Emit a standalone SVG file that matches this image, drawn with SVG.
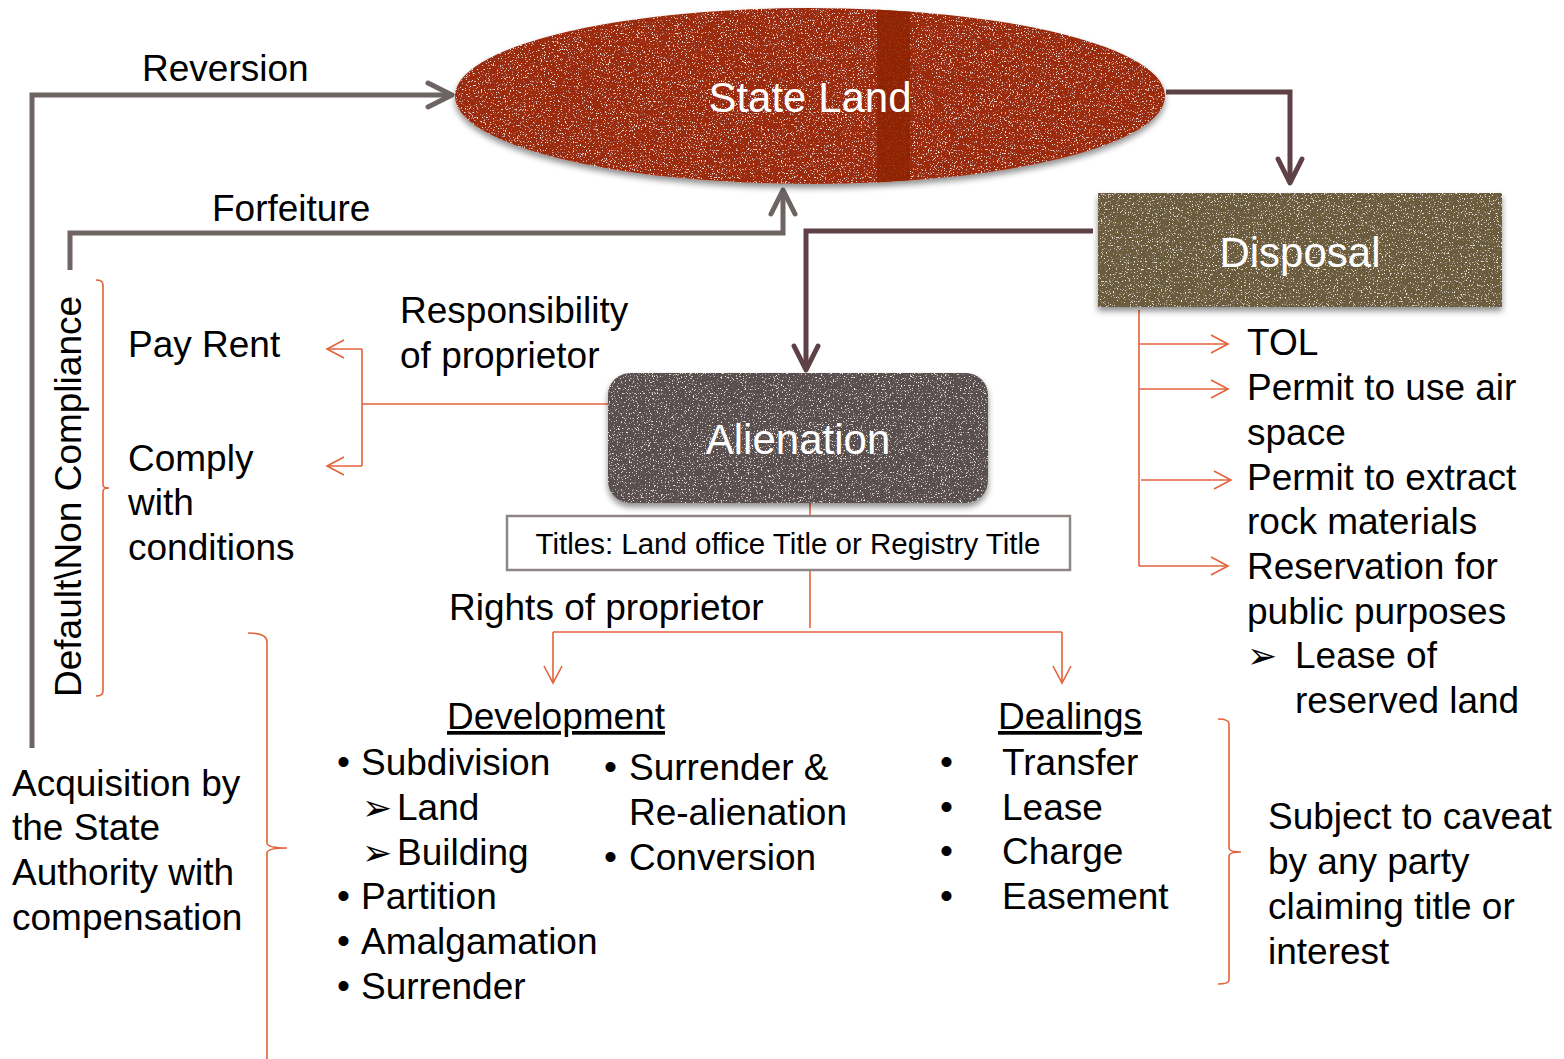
<svg xmlns="http://www.w3.org/2000/svg" width="1564" height="1059" viewBox="0 0 1564 1059">
<style>
  text { font-family: "Liberation Sans", Arial, sans-serif; fill: #000; }
  .t36 { font-size: 37px; }
  .lbl { font-size: 42px; fill: #fff; text-anchor: middle; }
  .ttl { font-size: 29.5px; }
  .arr { font-family: "DejaVu Sans", "Liberation Sans", sans-serif; font-size: 36px; }
  .gray { fill: none; stroke: #6f6464; stroke-width: 5; }
  .dark { fill: none; stroke: #5e4047; stroke-width: 5; }
  .or { fill: none; stroke: #e3623a; stroke-width: 1.6; }
</style>
<defs>
  <marker id="ahGray" markerUnits="userSpaceOnUse" markerWidth="34" markerHeight="34" viewBox="0 0 34 34" refX="29" refY="17" orient="auto">
    <path d="M5,5 L29,17 L5,29" fill="none" stroke="#6f6464" stroke-width="5" stroke-linecap="round" stroke-linejoin="round"/>
  </marker>
  <marker id="ahDark" markerUnits="userSpaceOnUse" markerWidth="34" markerHeight="34" viewBox="0 0 34 34" refX="29" refY="17" orient="auto">
    <path d="M5,5 L29,17 L5,29" fill="none" stroke="#5e4047" stroke-width="5" stroke-linecap="round" stroke-linejoin="round"/>
  </marker>
  <marker id="ahOr" markerUnits="userSpaceOnUse" markerWidth="22" markerHeight="22" viewBox="0 0 22 22" refX="19" refY="11" orient="auto">
    <path d="M2,2 L19,11 L2,20" fill="none" stroke="#e3623a" stroke-width="1.6"/>
  </marker>
  <filter id="grunge" x="-5%" y="-10%" width="110%" height="125%">
    <feTurbulence type="fractalNoise" baseFrequency="0.75" numOctaves="3" seed="7" result="noise"/>
    <feColorMatrix in="noise" type="matrix" values="0 0 0 0 0.96  0 0 0 0 0.9  0 0 0 0 0.86  7 0 0 0 -4.3" result="spots"/>
    <feComposite in="spots" in2="SourceAlpha" operator="in" result="spotsIn"/>
    <feGaussianBlur in="SourceAlpha" stdDeviation="3" result="blur"/>
    <feOffset in="blur" dx="0" dy="4" result="off"/>
    <feComponentTransfer in="off" result="shadow"><feFuncA type="linear" slope="0.45"/></feComponentTransfer>
    <feMerge><feMergeNode in="shadow"/><feMergeNode in="SourceGraphic"/><feMergeNode in="spotsIn"/></feMerge>
  </filter>
  <clipPath id="ellClip"><ellipse cx="810" cy="96" rx="355" ry="88"/></clipPath>
</defs>

<g id="connectors">
  <path class="gray" d="M32,748 L32,95 L452,95" marker-end="url(#ahGray)"/>
  <path class="gray" d="M70,270 L70,233 L783,233 L783,190" marker-end="url(#ahGray)"/>
  <path class="dark" d="M1166,92 L1290,92 L1290,183" marker-end="url(#ahDark)"/>
  <path class="dark" d="M1093,231 L806,231 L806,370" marker-end="url(#ahDark)"/>
  <path class="or" d="M608,404 L362,404"/>
  <path class="or" d="M362,349 L362,466"/>
  <path class="or" d="M362,349 L327,349" marker-end="url(#ahOr)"/>
  <path class="or" d="M362,466 L327,466" marker-end="url(#ahOr)"/>
  <path class="or" d="M810,503 L810,515"/>
  <path class="or" d="M810,571 L810,628"/>
  <path class="or" d="M553,632 L1062,632"/>
  <path class="or" d="M553,632 L553,683" marker-end="url(#ahOr)"/>
  <path class="or" d="M1062,632 L1062,683" marker-end="url(#ahOr)"/>
  <path class="or" d="M1139,310 L1139,566"/>
  <path class="or" d="M1139,344 L1228,344" marker-end="url(#ahOr)"/>
  <path class="or" d="M1139,389 L1228,389" marker-end="url(#ahOr)"/>
  <path class="or" d="M1141,480 L1231,480" marker-end="url(#ahOr)"/>
  <path class="or" d="M1139,566 L1228,566" marker-end="url(#ahOr)"/>
  <path class="or" d="M96,280 Q103,280 103,285 L103,485 Q103,488 109,488 Q103,488 103,491 L103,691 Q103,696 96,696"/>
  <path class="or" d="M248,633 Q267,633 267,642 L267,843 Q267,848 287,848 Q267,848 267,853 L267,1059"/>
  <path class="or" d="M1218,719 Q1229,719 1229,724 L1229,848 Q1229,852 1241,852 Q1229,852 1229,856 L1229,980 Q1229,984 1218,984"/>
</g>

<g id="state-land">
  <g filter="url(#grunge)">
    <ellipse cx="810" cy="96" rx="355" ry="88" fill="#9c2a0e"/>
  </g>
  <rect x="877" y="0" width="33" height="200" fill="#8e2200" opacity="0.85" clip-path="url(#ellClip)"/>
  <text class="lbl" x="810" y="112">State Land</text>
</g>

<g id="disposal">
  <rect x="1098" y="193" width="404" height="114" fill="#6b5b3d" filter="url(#grunge)"/>
  <text class="lbl" x="1300" y="267">Disposal</text>
</g>

<g id="alienation">
  <rect x="608" y="373" width="380" height="130" rx="22" fill="#5a4f50" filter="url(#grunge)"/>
  <text class="lbl" x="798" y="454">Alienation</text>
</g>

<g id="titles">
  <rect x="507" y="516" width="563" height="54" fill="#fff" stroke="#8e8585" stroke-width="2.5"/>
  <text class="ttl" x="788" y="554" text-anchor="middle">Titles: Land office Title or Registry Title</text>
</g>

<g id="labels">
  <text class="t36" x="142" y="81">Reversion</text>
  <text class="t36" x="212" y="221">Forfeiture</text>
  <text class="t36" transform="translate(81,697) rotate(-90)">Default\Non Compliance</text>
  <text class="t36" x="400" y="323">Responsibility</text>
  <text class="t36" x="400" y="368">of proprietor</text>
  <text class="t36" x="449" y="620">Rights of proprietor</text>
</g>

<g id="responsibilities">
  <text class="t36" x="128" y="357">Pay Rent</text>
  <text class="t36" x="128" y="471">Comply</text>
  <text class="t36" x="128" y="515">with</text>
  <text class="t36" x="128" y="560">conditions</text>
</g>

<g id="acquisition">
  <text class="t36" x="12" y="796">Acquisition by</text>
  <text class="t36" x="12" y="840">the State</text>
  <text class="t36" x="12" y="885">Authority with</text>
  <text class="t36" x="12" y="930">compensation</text>
</g>

<g id="disposal-list">
  <text class="t36" x="1247" y="355">TOL</text>
  <text class="t36" x="1247" y="400">Permit to use air</text>
  <text class="t36" x="1247" y="445">space</text>
  <text class="t36" x="1247" y="490">Permit to extract</text>
  <text class="t36" x="1247" y="534">rock materials</text>
  <text class="t36" x="1247" y="579">Reservation for</text>
  <text class="t36" x="1247" y="624">public purposes</text>
  <text class="arr" x="1247" y="668">➢</text>
  <text class="t36" x="1295" y="668">Lease of</text>
  <text class="t36" x="1295" y="713">reserved land</text>
</g>

<g id="development">
  <text class="t36" x="447" y="729" text-decoration="underline">Development</text>
  <text class="t36" x="337" y="774">•</text><text class="t36" x="361" y="775">Subdivision</text>
  <text class="arr" x="362" y="820">➢</text><text class="t36" x="397" y="820">Land</text>
  <text class="arr" x="362" y="865">➢</text><text class="t36" x="397" y="865">Building</text>
  <text class="t36" x="337" y="908">•</text><text class="t36" x="361" y="909">Partition</text>
  <text class="t36" x="337" y="953">•</text><text class="t36" x="361" y="954">Amalgamation</text>
  <text class="t36" x="337" y="998">•</text><text class="t36" x="361" y="999">Surrender</text>
  <text class="t36" x="604" y="779">•</text><text class="t36" x="629" y="780">Surrender &amp;</text>
  <text class="t36" x="629" y="825">Re-alienation</text>
  <text class="t36" x="604" y="869">•</text><text class="t36" x="629" y="870">Conversion</text>
</g>

<g id="dealings">
  <text class="t36" x="998" y="729" text-decoration="underline">Dealings</text>
  <text class="t36" x="940" y="774">•</text><text class="t36" x="1002" y="775">Transfer</text>
  <text class="t36" x="940" y="819">•</text><text class="t36" x="1002" y="820">Lease</text>
  <text class="t36" x="940" y="863">•</text><text class="t36" x="1002" y="864">Charge</text>
  <text class="t36" x="940" y="908">•</text><text class="t36" x="1002" y="909">Easement</text>
</g>

<g id="caveat">
  <text class="t36" x="1268" y="829">Subject to caveat</text>
  <text class="t36" x="1268" y="874">by any party</text>
  <text class="t36" x="1268" y="919">claiming title or</text>
  <text class="t36" x="1268" y="964">interest</text>
</g>
</svg>
